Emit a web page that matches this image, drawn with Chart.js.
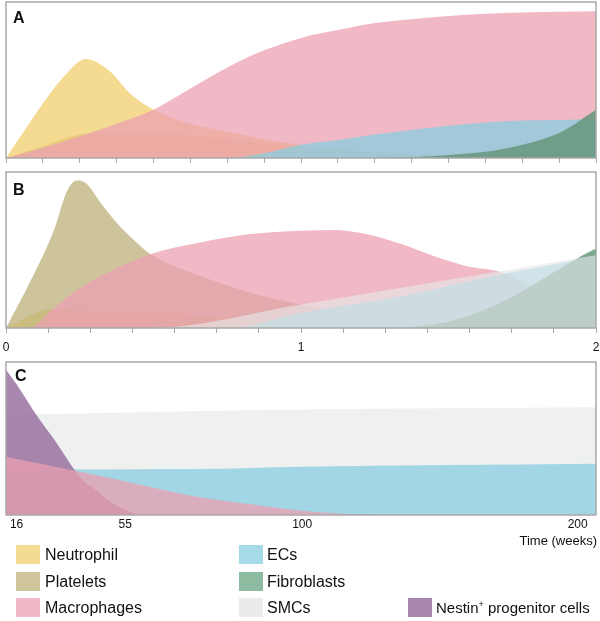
<!DOCTYPE html>
<html>
<head>
<meta charset="utf-8">
<script src="https://cdn.jsdelivr.net/npm/chart.js@4.4.1/dist/chart.umd.min.js"></script>
<style>
body { margin: 0; background: #fff; font-family: "Liberation Sans", Arial, sans-serif; }
#wrap { position: relative; width: 600px; height: 621px; }
#wrap canvas { position: absolute; left: 0; }
.sw { position: absolute; width: 24px; height: 19px; }
.lt { position: absolute; font-size: 16px; line-height: 19px; color: #111; white-space: nowrap; }
.lt sup { font-size: 9px; vertical-align: 6px; line-height: 0; }
#timeLabel { position: absolute; right: 3px; top: 533px; font-size: 13px; line-height: 16px; color: #111; }
</style>
</head>
<body>
<div id="wrap">
  <canvas id="chartA" width="600" height="168" style="top:0px"></canvas>
  <canvas id="chartB" width="600" height="192" style="top:170px"></canvas>
  <canvas id="chartC" width="600" height="176" style="top:360px"></canvas>
  <div id="timeLabel">Time (weeks)</div>

  <div class="sw" style="left:16px;top:545px;background:#f5da92"></div>
  <div class="lt" style="left:45px;top:545px">Neutrophil</div>
  <div class="sw" style="left:16px;top:572px;background:#cec59d"></div>
  <div class="lt" style="left:45px;top:572px">Platelets</div>
  <div class="sw" style="left:16px;top:598px;background:#f1b8c5"></div>
  <div class="lt" style="left:45px;top:598px">Macrophages</div>

  <div class="sw" style="left:239px;top:545px;background:#a6dae8"></div>
  <div class="lt" style="left:267px;top:545px">ECs</div>
  <div class="sw" style="left:239px;top:572px;background:#8dbb9f"></div>
  <div class="lt" style="left:267px;top:572px">Fibroblasts</div>
  <div class="sw" style="left:239px;top:598px;background:#ebebeb"></div>
  <div class="lt" style="left:267px;top:598px">SMCs</div>

  <div class="sw" style="left:408px;top:598px;background:#a787ae"></div>
  <div class="lt" style="left:436px;top:598px;font-size:15px">Nestin<sup>+</sup> progenitor cells</div>
</div>

<script>
// ---- panel A (weeks 0-2) ----
var aWeeks = [0, 0.125, 0.25, 0.375, 0.5, 0.625, 0.75, 0.875, 1, 1.125, 1.25, 1.375, 1.5, 1.625, 1.75, 1.875, 2];
var neutAWeeks = [0, 0.06, 0.125, 0.2, 0.27, 0.35, 0.42, 0.5, 0.625, 0.75, 0.875, 1, 1.125, 1.25, 1.375, 1.5, 1.75, 2];
var neutA = [0, 17, 35, 53, 63.5, 56, 41.5, 31, 22, 17, 12, 8.5, 6, 4, 2.5, 1.5, 0.5, 0];
var plateletsA = [0, 7.5, 15, 16.5, 16, 14.3, 12, 10, 7.5, 5, 3, 1.5, 0.8, 0.4, 0.2, 0, 0];
var macroA = [0, 6.6, 14, 22, 31, 44.5, 58, 69, 77, 82, 86.5, 89, 91, 92.5, 93.3, 93.8, 94];
var ecsA = [0, 0, 0, 0, 0, 0, 0, 3, 8.5, 11.5, 15, 18, 20.7, 22.7, 24, 24.4, 24.8];
var fibroA = [0, 0, 0, 0, 0, 0, 0, 0, 0, 0, 0, 0.5, 2, 4, 8.5, 16, 31];
var aTickWeeks = [0, 0.125, 0.25, 0.375, 0.5, 0.625, 0.75, 0.875, 1, 1.125, 1.25, 1.375, 1.5, 1.625, 1.75, 1.875, 2];

// ---- panel B (weeks 0-2) ----
var neutBWeeks = [0, 0.05, 0.1, 0.15, 0.3, 0.5, 0.66, 0.9, 1.1, 1.3];
var neutB = [0, 5, 9.5, 12, 11.5, 10, 8, 4, 1.5, 0];
var platBWeeks = [0, 0.08, 0.166, 0.205, 0.24, 0.273, 0.32, 0.375, 0.43, 0.49, 0.66, 0.83, 1, 1.25, 1.5, 1.75, 2];
var plateletsB = [0, 29, 64.5, 87, 94.5, 92.5, 80.5, 67.5, 57, 47.3, 33.3, 22.6, 15, 7, 3, 1, 0];
var macroBWeeks = [0, 0.08, 0.15, 0.234, 0.319, 0.488, 0.658, 0.827, 1, 1.11, 1.22, 1.34, 1.45, 1.56, 1.675, 1.85, 2];
var macroB = [0, 0, 10.5, 23.5, 33, 47.3, 54.8, 60.2, 62.4, 62.8, 60.2, 53.8, 46.2, 39.8, 35.9, 20, 5];
var ecsBWeeks = [0, 0.76, 1, 1.34, 1.68, 2];
var ecsB = [0, 0, 9.7, 20.4, 34.4, 45.8];
var fibroBWeeks = [0, 1.15, 1.3, 1.42, 1.57, 1.74, 1.855, 1.963, 2];
var fibroB = [0, 0, 0.5, 1.5, 8, 22.5, 35.5, 47.5, 51];
var smcBWeeks = [0, 0.49, 1, 1.5, 2];
var smcB = [0, 0, 15, 31, 46.7];
var bTickWeeks = [0, 1/7, 2/7, 3/7, 4/7, 5/7, 6/7, 1, 8/7, 9/7, 10/7, 11/7, 12/7, 13/7, 2];
var bLabelWeeks = [0, 1, 2];

// ---- panel C (weeks 12-207) ----
var nestinCWeeks = [12, 16, 22.5, 30, 37, 40.5, 45, 48.5, 52, 57, 60];
var nestinC = [95, 85.5, 67, 48, 29, 21.5, 15.5, 10, 6, 1.5, 0];
var macroCWeeks = [12, 24.5, 37, 50, 61, 74, 87, 99, 120, 135, 207];
var macroC = [38, 33.5, 29, 24, 18.5, 11.6, 7, 3, 0.5, 0, 0];
var ecsCWeeks = [12, 37, 74, 100, 207];
var ecsC = [29.5, 29.7, 30, 31.6, 33.5];
var smcCWeeks = [12, 100, 207];
var smcC = [65.5, 69, 70.5];
var cTickWeeks = [16, 55, 100, 200];

// the C time axis is not evenly spaced in the figure
var cScaleWeeks = [12, 16, 55, 100, 200, 207];
var cScalePos = [0, 0.018, 0.202, 0.502, 0.969, 1];

var colNeut = 'rgba(242,206,110,0.75)';
var colPlat = 'rgba(188,176,122,0.75)';
var colMacro = 'rgba(236,160,178,0.75)';
var colEC = 'rgba(136,206,224,0.75)';
var colFibro = 'rgba(102,150,126,0.85)';
var colSMC = 'rgba(230,232,232,0.65)';
var colNestin = 'rgba(146,106,155,0.8)';

function interp(v, xs, ys) {
    var i = 1;
    while (i < xs.length - 1 && v > xs[i]) i++;
    return ys[i - 1] + (v - xs[i - 1]) * (ys[i] - ys[i - 1]) / (xs[i] - xs[i - 1]);
}

// linear scale with a piecewise mapping of weeks to position
class WeekScale extends Chart.LinearScale {
    getPixelForValue(value) {
        return this.getPixelForDecimal(interp(value, cScaleWeeks, cScalePos));
    }
    getValueForPixel(pixel) {
        return interp(this.getDecimalForPixel(pixel), cScalePos, cScaleWeeks);
    }
}
WeekScale.id = 'weekAxis';
WeekScale.defaults = {};
Chart.register(WeekScale);

function pts(xs, ys) {
    return xs.map(function(x, i) { return { x: x, y: ys[i] }; });
}

function area(label, xs, ys, colour) {
    return {
        label: label,
        data: pts(xs, ys),
        backgroundColor: colour,
        borderWidth: 0,
        pointRadius: 0,
        fill: 'origin',
        cubicInterpolationMode: 'monotone'
    };
}

// box round the plot + panel letter
var framePlugin = {
    id: 'panelFrame',
    afterDraw: function(chart, args, opts) {
        var ctx = chart.ctx;
        var a = chart.chartArea;
        ctx.save();
        ctx.strokeStyle = '#a9a9a9';
        ctx.lineWidth = 1.5;
        ctx.strokeRect(a.left, a.top, a.right - a.left, a.bottom - a.top);
        ctx.fillStyle = '#111';
        ctx.font = 'bold 16px "Liberation Sans", Arial, sans-serif';
        ctx.fillText(opts.letter, opts.x, opts.y);
        ctx.restore();
    }
};

function baseOptions(letter, lx, ly, padBottom, xScale) {
    return {
        responsive: false,
        animation: false,
        devicePixelRatio: 1,
        events: [],
        layout: { padding: { top: 2, left: 6, right: 4, bottom: padBottom } },
        plugins: {
            legend: { display: false },
            tooltip: { enabled: false },
            panelFrame: { letter: letter, x: lx, y: ly }
        },
        scales: {
            x: xScale,
            y: { min: 0, max: 100, display: false }
        }
    };
}

// graph A
new Chart(document.getElementById('chartA'), {
    type: 'line',
    data: {
        datasets: [
            area('Fibroblasts', aWeeks, fibroA, colFibro),
            area('ECs', aWeeks, ecsA, colEC),
            area('Macrophages', aWeeks, macroA, colMacro),
            area('Neutrophil', neutAWeeks, neutA, colNeut),
            area('Platelets', aWeeks, plateletsA, colPlat)
        ]
    },
    options: baseOptions('A', 13, 23, 5, {
        type: 'linear', min: 0, max: 2,
        afterBuildTicks: function(s) { s.ticks = aTickWeeks.map(function(v) { return { value: v }; }); },
        grid: { drawOnChartArea: false, drawTicks: true, tickLength: 5, color: '#a9a9a9' },
        border: { display: false },
        ticks: { display: false }
    }),
    plugins: [framePlugin]
});

// graph B - label gap comes from the line height so the end labels don't push the plot in
new Chart(document.getElementById('chartB'), {
    type: 'line',
    data: {
        datasets: [
            area('SMCs', smcBWeeks, smcB, colSMC),
            area('Fibroblasts', fibroBWeeks, fibroB, colFibro),
            area('ECs', ecsBWeeks, ecsB, colEC),
            area('Macrophages', macroBWeeks, macroB, colMacro),
            area('Platelets', platBWeeks, plateletsB, colPlat),
            area('Neutrophil', neutBWeeks, neutB, colNeut)
        ]
    },
    options: baseOptions('B', 13, 25, 0.2, {
        type: 'linear', min: 0, max: 2,
        afterBuildTicks: function(s) { s.ticks = bTickWeeks.map(function(v) { return { value: v }; }); },
        grid: { drawOnChartArea: false, drawTicks: true, tickLength: 5, color: '#a9a9a9' },
        border: { display: false },
        ticks: {
            autoSkip: false, maxRotation: 0, padding: 0, color: '#111',
            font: { size: 12, lineHeight: 2.4, family: '"Liberation Sans", Arial, sans-serif' },
            callback: function(v) { return bLabelWeeks.indexOf(v) >= 0 ? String(v) : ''; }
        }
    }),
    plugins: [framePlugin]
});

// graph C
new Chart(document.getElementById('chartC'), {
    type: 'line',
    data: {
        datasets: [
            area('Macrophages', macroCWeeks, macroC, colMacro),
            area('Nestin+ progenitor cells', nestinCWeeks, nestinC, colNestin),
            area('ECs', ecsCWeeks, ecsC, colEC),
            area('SMCs', smcCWeeks, smcC, colSMC)
        ]
    },
    options: baseOptions('C', 15, 21, 2.6, {
        type: 'weekAxis', min: 12, max: 207,
        afterBuildTicks: function(s) { s.ticks = cTickWeeks.map(function(v) { return { value: v }; }); },
        grid: { display: false, drawTicks: false },
        border: { display: false },
        ticks: {
            autoSkip: false, maxRotation: 0, padding: 2, color: '#111',
            font: { size: 12, family: '"Liberation Sans", Arial, sans-serif' },
            callback: function(v) { return String(v); }
        }
    }),
    plugins: [framePlugin]
});
</script>
</body>
</html>
